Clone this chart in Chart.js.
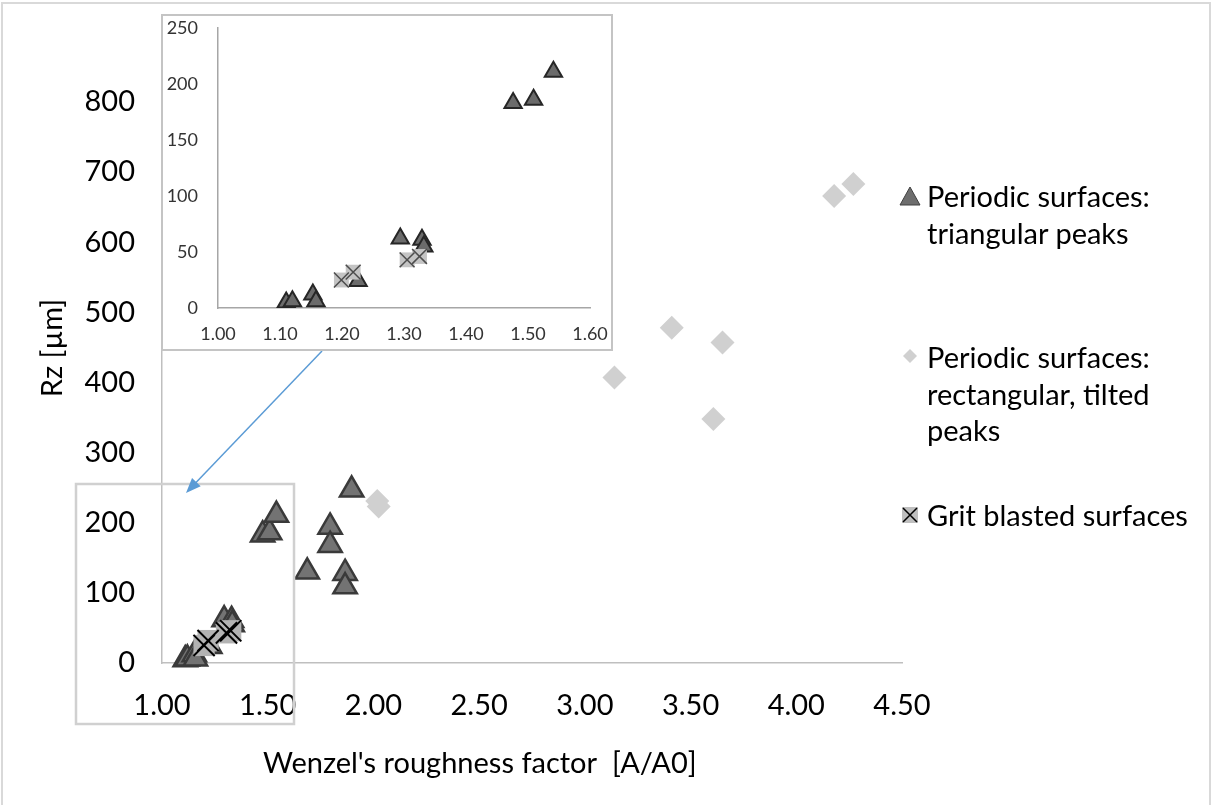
<!DOCTYPE html>
<html>
<head>
<meta charset="utf-8">
<script src="https://cdn.jsdelivr.net/npm/chart.js@4"></script>
<style>
  body { margin: 0; background: #fff; overflow: hidden; font-family: Lato, sans-serif; }
  #wrap { position: relative; width: 1212px; height: 805px; }
  #frame { position: absolute; left: 1px; top: 2px; width: 1210px; height: 812px; border: 2px solid #d9d9d9; box-sizing: border-box; }
  #main { position: absolute; left: 0; top: 0; }
  #insetBox { position: absolute; left: 161px; top: 14px; width: 452px; height: 337px; border: 2px solid #c4c4c4; box-sizing: border-box; background: #fff; }
  #inset { display: block; }
  .leg { position: absolute; left: 927px; font-size: 29px; line-height: 36.7px; color: #000; white-space: nowrap; }
  .mk { position: absolute; }
</style>
</head>
<body>
<div id="wrap">
  <div id="frame"></div>
  <canvas id="main" width="1212" height="805"></canvas>
  <div id="insetBox"><canvas id="inset" width="448" height="333"></canvas></div>

  <svg class="mk" style="left:899px; top:186px" width="22" height="20"><polygon points="11,1 21,19 1,19" fill="#6e6e6e" stroke="#404040" stroke-width="1"/></svg>
  <div class="leg" id="leg1" style="top:178px"></div>

  <svg class="mk" style="left:903px; top:349px" width="14" height="14"><polygon points="7,0 14,7 7,14 0,7" fill="#d0d0d0"/></svg>
  <div class="leg" id="leg2" style="top:339px"></div>

  <svg class="mk" style="left:901px; top:506px" width="18" height="18"><rect x="1" y="1" width="16" height="16" fill="#bfbfbf"/><path d="M2,2 L16,16 M16,2 L2,16" stroke="#000" stroke-width="1.5"/></svg>
  <div class="leg" id="leg3" style="top:497px"></div>
</div>
<script>
// Periodic surfaces: triangular peaks
const triX = [1.110, 1.120, 1.153, 1.158, 1.226, 1.294, 1.329, 1.332, 1.476, 1.509, 1.541, 1.687, 1.795, 1.795, 1.866, 1.866, 1.897];
const triY = [5, 6, 12, 6, 24, 62, 61, 55, 183, 186, 211, 130, 194, 168, 128, 109, 247];

// Periodic surfaces: rectangular, tilted peaks
const tiltX = [2.018, 2.025, 3.140, 3.411, 3.608, 3.651, 4.179, 4.270];
const tiltY = [231, 223, 407, 478, 348, 457, 666, 683];

// Grit blasted surfaces
const gritX = [1.199, 1.218, 1.305, 1.325];
const gritY = [25, 32, 43, 46];

const legendLabels = [
    ['Periodic surfaces:', 'triangular peaks'],
    ['Periodic surfaces:', 'rectangular, tilted', 'peaks'],
    ['Grit blasted surfaces']
];

const xTitle = "Wenzel's roughness factor  [A/A0]";
const yTitle = 'Rz [µm]';

legendLabels.forEach((lines, i) => {
    document.getElementById('leg' + (i + 1)).innerHTML = lines.join('<br>');
});

const toPts = (xs, ys) => xs.map((x, i) => ({ x: x, y: ys[i] }));
const triPts = toPts(triX, triY);
const tiltPts = toPts(tiltX, tiltY);
const gritPts = toPts(gritX, gritY);

// zoom frame, arrow and axis titles
const decor = {
    id: 'decor',
    afterDatasetsDraw(chart) {
        const ctx = chart.ctx;
        ctx.save();
        ctx.strokeStyle = '#d0d0d0';
        ctx.lineWidth = 2.5;
        ctx.strokeRect(76, 484, 218, 240);

        // arrow from inset to zoom frame
        ctx.strokeStyle = '#5b9bd5';
        ctx.fillStyle = '#5b9bd5';
        ctx.lineWidth = 1.5;
        const x0 = 322, y0 = 351, x1 = 186, y1 = 493;
        const ang = Math.atan2(y1 - y0, x1 - x0);
        ctx.beginPath();
        ctx.moveTo(x0, y0);
        ctx.lineTo(x1 - 10 * Math.cos(ang), y1 - 10 * Math.sin(ang));
        ctx.stroke();
        ctx.beginPath();
        ctx.moveTo(x1, y1);
        ctx.lineTo(x1 - 15 * Math.cos(ang) + 6 * Math.sin(ang), y1 - 15 * Math.sin(ang) - 6 * Math.cos(ang));
        ctx.lineTo(x1 - 15 * Math.cos(ang) - 6 * Math.sin(ang), y1 - 15 * Math.sin(ang) + 6 * Math.cos(ang));
        ctx.closePath();
        ctx.fill();

        // axis titles
        ctx.fillStyle = '#000';
        ctx.font = '29px Lato';
        ctx.textAlign = 'left';
        ctx.textBaseline = 'alphabetic';
        ctx.fillText(xTitle, 263, 773);
        ctx.translate(62, 348);
        ctx.rotate(-Math.PI / 2);
        ctx.textAlign = 'center';
        ctx.fillText(yTitle, 0, 0);
        ctx.restore();
    }
};

const tickFont = { family: 'Lato', size: 29 };

new Chart(document.getElementById('main'), {
    type: 'scatter',
    data: {
        datasets: [
            { data: gritPts, pointStyle: 'crossRot', pointRadius: 15, pointBorderColor: '#000', pointBorderWidth: 2, clip: false },
            { data: gritPts, pointStyle: 'rect', pointRadius: 15, pointBackgroundColor: '#b3b3b3', pointBorderWidth: 0, clip: false },
            { data: triPts, pointStyle: 'triangle', pointRadius: 13.5, pointBackgroundColor: '#737373', pointBorderColor: '#3a3a3a', pointBorderWidth: 2.5, clip: false },
            { data: tiltPts, pointStyle: 'rectRot', pointRadius: 12, pointBackgroundColor: '#d0d0d0', pointBorderWidth: 0, clip: false }
        ]
    },
    options: {
        responsive: false,
        animation: false,
        events: [],
        layout: { padding: { top: 102, right: 310, bottom: 0, left: 0 } },
        plugins: { legend: { display: false }, tooltip: { enabled: false } },
        scales: {
            x: {
                type: 'linear', min: 1, max: 4.5,
                grid: { display: false, drawTicks: false },
                border: { color: '#bfbfbf', width: 1.5 },
                ticks: { stepSize: 0.5, padding: 25, color: '#000', font: tickFont, callback: v => v.toFixed(2) },
                afterFit: s => { s.height = 142; s.paddingLeft = 0; s.paddingRight = 0; }
            },
            y: {
                min: 0, max: 800,
                grid: { display: false, drawTicks: false },
                border: { color: '#bfbfbf', width: 1.5 },
                ticks: { stepSize: 100, padding: 27, color: '#000', font: tickFont },
                afterFit: s => { s.width = 162; s.paddingTop = 0; s.paddingBottom = 0; }
            }
        }
    },
    plugins: [decor]
});

// inset: zoom on 1.00 - 1.60
const inTri = triPts.filter(p => p.x <= 1.6);
const insetFont = { family: 'Lato', size: 18 };

new Chart(document.getElementById('inset'), {
    type: 'scatter',
    data: {
        datasets: [
            { data: gritPts, pointStyle: 'crossRot', pointRadius: 10.5, pointBorderColor: '#4d4d4d', pointBorderWidth: 1.5 },
            { data: gritPts, pointStyle: 'rect', pointRadius: 10.5, pointBackgroundColor: '#c4c4c4', pointBorderWidth: 0 },
            { data: inTri, pointStyle: 'triangle', pointRadius: 10, pointBackgroundColor: '#6b6b6b', pointBorderColor: '#262626', pointBorderWidth: 2 }
        ]
    },
    options: {
        responsive: false,
        animation: false,
        events: [],
        layout: { padding: { top: 7, right: 21, bottom: 0, left: 0 } },
        plugins: { legend: { display: false }, tooltip: { enabled: false } },
        scales: {
            x: {
                type: 'linear', min: 1, max: 1.6,
                grid: { display: false, drawTicks: false },
                border: { color: '#a6a6a6', width: 1.5 },
                ticks: { stepSize: 0.1, padding: 15, color: '#333', font: insetFont, callback: v => v.toFixed(2) },
                afterFit: s => { s.height = 41; s.paddingLeft = 0; s.paddingRight = 0; }
            },
            y: {
                min: 0, max: 250,
                grid: { display: false, drawTicks: false },
                border: { color: '#a6a6a6', width: 1.5 },
                ticks: { stepSize: 50, padding: 20, color: '#333', font: insetFont },
                afterFit: s => { s.width = 55; s.paddingTop = 0; s.paddingBottom = 0; }
            }
        }
    }
});
</script>
</body>
</html>
